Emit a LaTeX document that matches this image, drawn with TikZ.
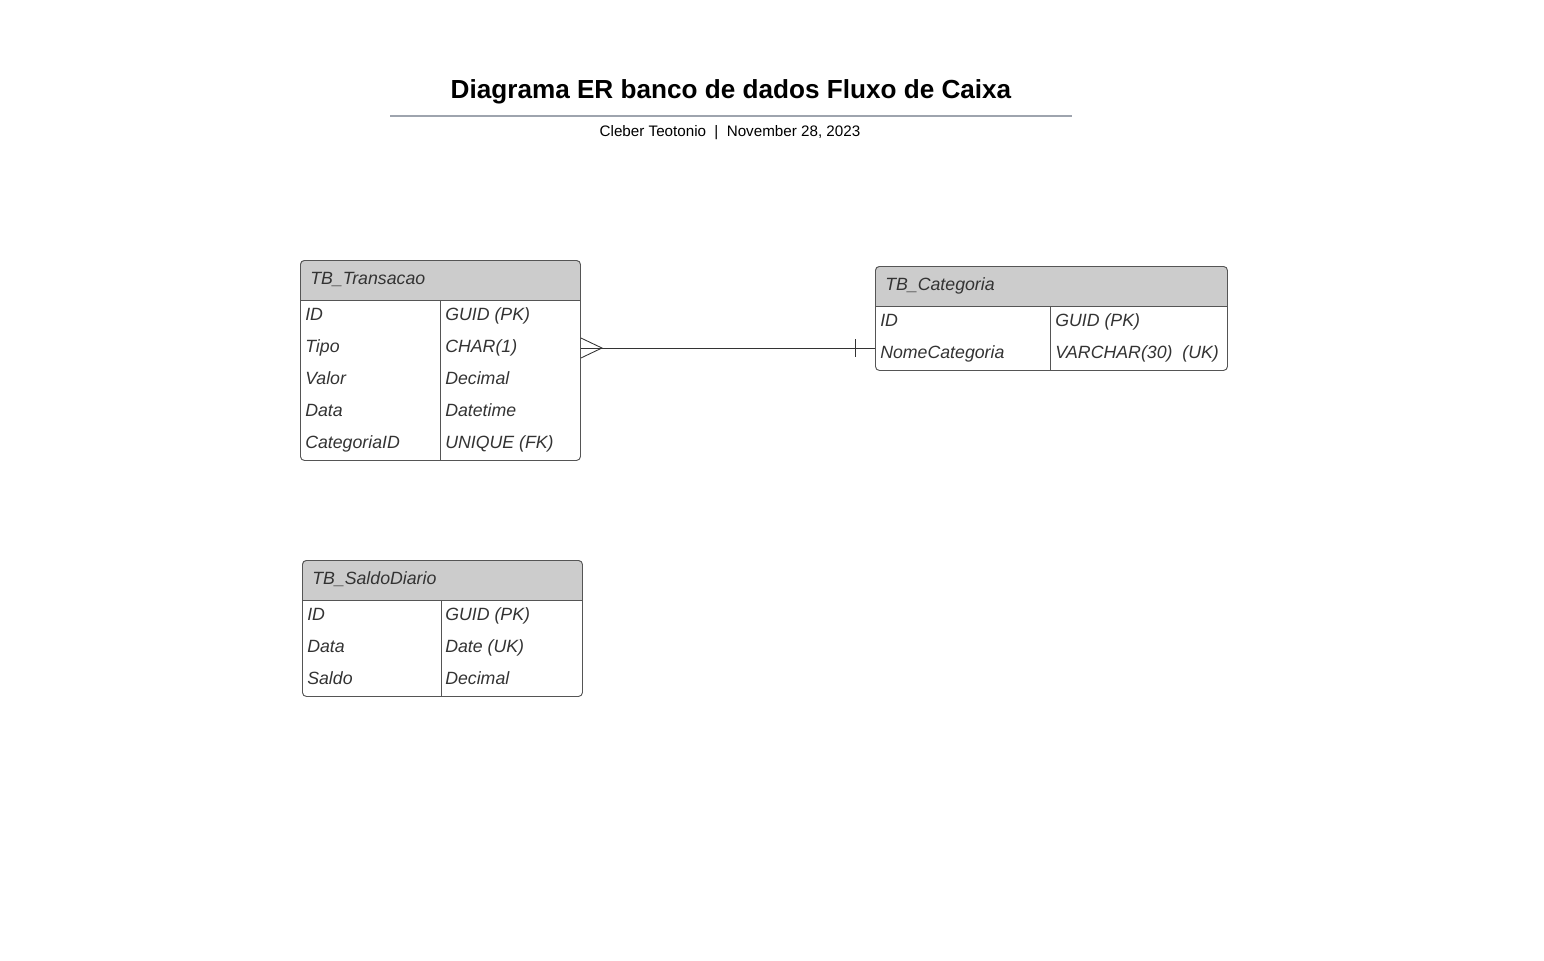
\documentclass[tikz,border=0pt]{standalone}
\usepackage{fontspec}
\setmainfont{Liberation Sans}
\usetikzlibrary{calc}
\definecolor{bordercol}{HTML}{555555}
\definecolor{hdrfill}{HTML}{CCCCCC}
\definecolor{txtcol}{HTML}{333333}
\definecolor{conncol}{HTML}{333333}
\definecolor{rulecol}{HTML}{9EA4AE}
\newcommand\cellfont{\fontsize{13.3pt}{16pt}\selectfont\itshape}
\tikzset{
  tframe/.style={draw=bordercol, line width=0.7pt, rounded corners=3pt, inner sep=0pt, anchor=north west},
  hdr/.style={fill=hdrfill},
  cell/.style={font=\cellfont, text=txtcol, inner sep=0pt, anchor=base west},
  sepline/.style={draw=bordercol, line width=0.7pt},
  conn/.style={draw=conncol, line width=0.65pt},
}
\begin{document}
\begin{tikzpicture}[x=0.75pt,y=-0.75pt]
\path[use as bounding box] (0,0) rectangle (1544,960);

% title block
\node[font=\bfseries\fontsize{19.6pt}{24pt}\selectfont, inner sep=0pt] (title) at (731,92) {Diagrama ER banco de dados Fluxo de Caixa};
\coordinate (ruleL) at (390,116);
\coordinate (ruleR) at (1072,116);
\draw[rulecol, line width=1.5pt] (ruleL) -- (ruleR);
\node[font=\fontsize{11.4pt}{14pt}\selectfont, inner sep=0pt] (subtitle) at (730,133) {Cleber Teotonio\hspace{0.55em}|\hspace{0.55em}November 28, 2023};

% ---------- TB_Transacao ----------
\fill[hdr] (300,300) {[rounded corners=3pt] -- (300,260) -- (580,260)} -- (580,300) -- cycle;
\node[tframe, minimum width=210pt, minimum height=150pt] (trans) at (300,260) {};
\draw[sepline] (300,300) -- (580,300);
\draw[sepline] (440,300) -- (440,460);
\node[cell] (transT) at (310,284) {TB\_Transacao};
\node[cell] (t1a) at (305,320) {ID};          \node[cell] (t1b) at (445,320) {GUID (PK)};
\node[cell] (t2a) at (305,352) {Tipo};        \node[cell] (t2b) at (445,352) {CHAR(1)};
\node[cell] (t3a) at (305,384) {Valor};       \node[cell] (t3b) at (445,384) {Decimal};
\node[cell] (t4a) at (305,416) {Data};        \node[cell] (t4b) at (445,416) {Datetime};
\node[cell] (t5a) at (305,448) {CategoriaID}; \node[cell] (t5b) at (445,448) {UNIQUE (FK)};

% ---------- TB_Categoria ----------
\fill[hdr] (875,306) {[rounded corners=3pt] -- (875,266) -- (1227,266)} -- (1227,306) -- cycle;
\node[tframe, minimum width=264pt, minimum height=78pt] (cat) at (875,266) {};
\draw[sepline] (875,306) -- (1227,306);
\draw[sepline] (1050,306) -- (1050,370);
\node[cell] (catT) at (885,290) {TB\_Categoria};
\node[cell] (c1a) at (880,326) {ID};            \node[cell] (c1b) at (1055,326) {GUID (PK)};
\node[cell] (c2a) at (880,358) {NomeCategoria}; \node[cell] (c2b) at (1055,358) {VARCHAR(30)\ \ (UK)};

% ---------- TB_SaldoDiario ----------
\fill[hdr] (302,600) {[rounded corners=3pt] -- (302,560) -- (582,560)} -- (582,600) -- cycle;
\node[tframe, minimum width=210pt, minimum height=102pt] (saldo) at (302,560) {};
\draw[sepline] (302,600) -- (582,600);
\draw[sepline] (441,600) -- (441,696);
\node[cell] (saldoT) at (312,584) {TB\_SaldoDiario};
\node[cell] (s1a) at (307,620) {ID};    \node[cell] (s1b) at (445,620) {GUID (PK)};
\node[cell] (s2a) at (307,652) {Data};  \node[cell] (s2b) at (445,652) {Date (UK)};
\node[cell] (s3a) at (307,684) {Saldo}; \node[cell] (s3b) at (445,684) {Decimal};

% ---------- relationship ----------
\coordinate (transR) at (trans.east |- 0,348);
\coordinate (catL) at (cat.west |- 0,348);
\draw[conn] (transR) -- (catL);
\draw[conn] ($(transR)+(0,-10)$) -- ($(transR)+(21,0)$) -- ($(transR)+(0,10)$);
\draw[conn] ($(catL)+(-20,-9)$) -- ($(catL)+(-20,9)$);
\end{tikzpicture}
\end{document}
